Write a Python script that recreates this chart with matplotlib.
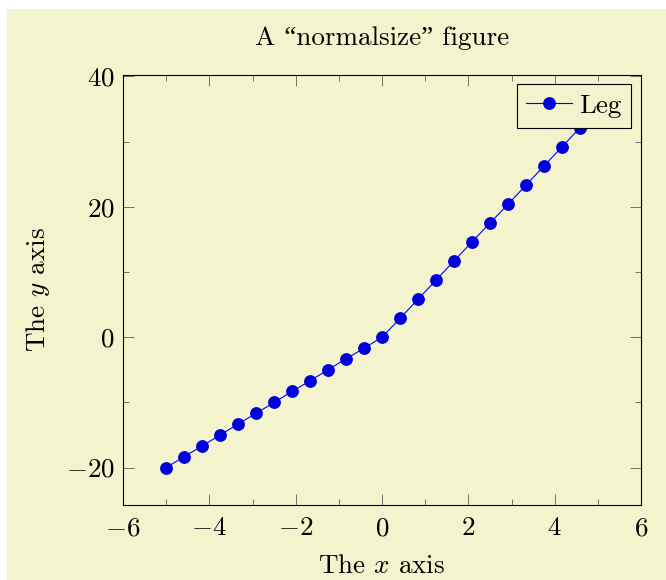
import matplotlib
matplotlib.use('Agg')
import matplotlib.pyplot as plt

# values
x_vals = [-5.0, -4.58, -4.17, -3.75, -3.33, -2.92, -2.5, -2.08, -1.67, -1.25,
          -0.83, -0.42, 0.0, 0.42, 0.83, 1.25, 1.67, 2.08, 2.5, 2.92,
          3.33, 3.75, 4.17, 4.58]
y_vals = [-20.0, -18.3, -16.7, -15.0, -13.3, -11.7, -10.0, -8.3, -6.7, -5.0,
          -3.3, -1.7, 0.0, 2.9, 5.8, 8.75, 11.7, 14.6, 17.5, 20.4,
          23.3, 26.25, 29.2, 32.1]
x_ticks = [-6, -4, -2, 0, 2, 4, 6]
y_ticks = [-20, 0, 20, 40]

plt.rcParams['font.family'] = ['cmr10', 'Liberation Serif']
plt.rcParams['mathtext.fontset'] = 'cm'
plt.rcParams['axes.formatter.use_mathtext'] = True
plt.rcParams['font.size'] = 19.5

bg = '#F3F3CD'
fig = plt.figure(figsize=(6.66, 5.8), dpi=100)
fig.patches.append(plt.Rectangle((7 / 666, 0), 1, 1 - 9 / 580, transform=fig.transFigure,
                                 facecolor=bg, edgecolor='none', zorder=-10))
ax = fig.add_axes([123 / 666, 1 - 504.5 / 580, 518 / 666, 430 / 580])
ax.set_facecolor(bg)

ax.plot(x_vals, y_vals, color='#0000FF', lw=0.8, marker='o', markersize=8.2,
        markerfacecolor='#0000DD', markeredgecolor='#0000DD', label='Leg')

ax.set_xlim(-6, 6)
ax.set_ylim(-25.66, 40.3)
ax.set_xticks(x_ticks)
ax.set_yticks(y_ticks)
ax.set_xticks([-5, -3, -1, 1, 3, 5], minor=True)
ax.set_yticks([-10, 10, 30], minor=True)
ax.tick_params(which='both', direction='in', top=True, right=True, color='#707070', width=0.7)
ax.tick_params(which='major', length=7.8)
ax.tick_params(axis='x', which='major', pad=8.5)
ax.tick_params(axis='y', which='major', pad=6)
ax.tick_params(which='minor', length=4.6)
for s in ax.spines.values():
    s.set_linewidth(0.8)

ax.set_title('A \u201cnormalsize\u201d figure', fontsize=19.5, pad=21.5)
ax.set_xlabel('The $x$ axis', labelpad=10.5)
ax.set_ylabel('The $y$ axis', labelpad=10)

leg = ax.legend(loc='upper right', fancybox=False, framealpha=1, facecolor=bg,
                edgecolor='black', borderaxespad=0.36, handlelength=1.7,
                handletextpad=0.25, borderpad=0.36)
leg.get_frame().set_linewidth(0.8)

fig.savefig('out.png', dpi=100, facecolor='white')
